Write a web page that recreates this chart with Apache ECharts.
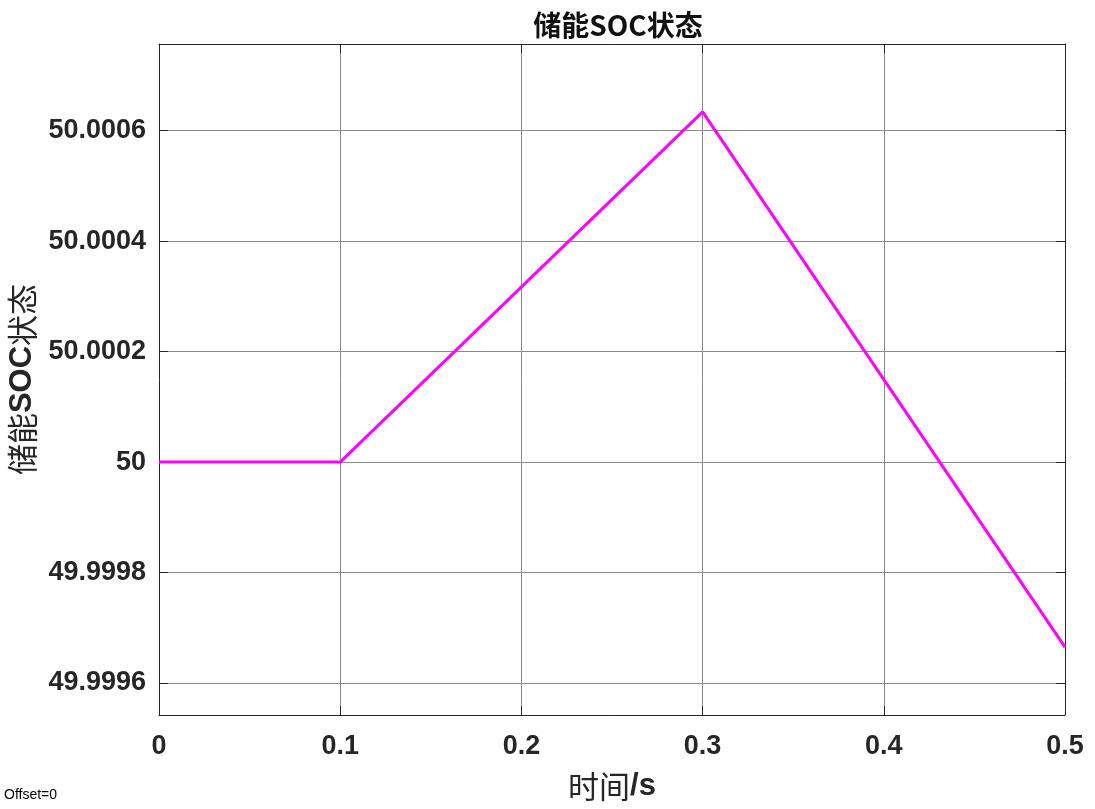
<!DOCTYPE html>
<html>
<head>
<meta charset="utf-8">
<script src="https://cdn.jsdelivr.net/npm/echarts@6/dist/echarts.min.js"></script>
<style>
html,body{margin:0;padding:0;background:#fff;}
#main{width:1095px;height:809px;}
</style>
</head>
<body>
<div id="main"></div>
<script>
// 时间 (s) 和 储能SOC 数据点
var timeData = [0, 0.1, 0.3, 0.5];
var socData = [50, 50, 50.000634, 49.999665];
var yTicks = [49.9996, 49.9998, 50, 50.0002, 50.0004, 50.0006];

var txtColor = '#262626';
var labelFont = '"Liberation Sans", Arial, sans-serif';
var cjkFont = '"Noto Sans CJK SC", sans-serif';

var myChart = echarts.init(document.getElementById('main'));

function yFmt(v) {
    return parseFloat(Number(v).toFixed(4)).toString();
}

var seriesPoints = [];
for (var i = 0; i < timeData.length; i++) {
    seriesPoints.push([timeData[i], socData[i]]);
}

var baseX = {
    type: 'value',
    min: 0,
    max: 0.5,
    interval: 0.1,
    axisLine: {show: true, onZero: false, lineStyle: {color: txtColor, width: 1}},
    axisTick: {show: true, inside: true, length: 9, lineStyle: {color: txtColor}},
    splitLine: {show: false}
};
var baseY = {
    type: 'value',
    min: 49.999542,
    max: 50.000757,
    axisLine: {show: true, onZero: false, lineStyle: {color: txtColor, width: 1}},
    axisTick: {show: true, inside: true, length: 9, customValues: yTicks, lineStyle: {color: txtColor}},
    splitLine: {show: false}
};

var option = {
    animation: false,
    backgroundColor: '#fff',
    title: {
        text: '储能SOC状态',
        left: 613,
        textAlign: 'center',
        top: 6,
        textStyle: {fontFamily: cjkFont, fontSize: 28, fontWeight: 'bold', color: '#111'}
    },
    grid: {left: 159, right: 30, top: 44, bottom: 94, containLabel: false, outerBoundsMode: 'none'},
    xAxis: [
        Object.assign({}, baseX, {
            position: 'bottom',
            name: '{c|时间}{b|/s}',
            nameLocation: 'middle',
            nameGap: 56,
            nameTextStyle: {
                rich: {
                    c: {fontFamily: cjkFont, fontSize: 31, color: txtColor},
                    b: {fontFamily: labelFont, fontSize: 31, fontWeight: 'bold', color: txtColor}
                }
            },
            axisLabel: {
                margin: 18,
                fontFamily: labelFont, fontSize: 27, fontWeight: 'bold', color: txtColor,
                formatter: function (v) { return parseFloat(v.toFixed(1)).toString(); }
            },
            splitLine: {show: true, lineStyle: {color: '#8a8a8a', width: 1}}
        }),
        Object.assign({}, baseX, {position: 'top', axisLabel: {show: false}})
    ],
    yAxis: [
        Object.assign({}, baseY, {
            position: 'left',
            name: '{c|储能}{b|SOC}{c|状态}',
            nameLocation: 'middle',
            nameGap: 115,
            nameRotate: 90,
            nameTextStyle: {
                rich: {
                    c: {fontFamily: cjkFont, fontSize: 31, color: txtColor},
                    b: {fontFamily: labelFont, fontSize: 31, fontWeight: 'bold', color: txtColor}
                }
            },
            axisLabel: {
                margin: 13,
                customValues: yTicks,
                fontFamily: labelFont, fontSize: 27, fontWeight: 'bold', color: txtColor,
                formatter: yFmt
            },
            splitLine: {show: true, lineStyle: {color: '#8a8a8a', width: 1}}
        }),
        Object.assign({}, baseY, {position: 'right', axisLabel: {show: false}})
    ],
    graphic: [{
        type: 'text',
        left: 4,
        top: 788,
        style: {text: 'Offset=0', fontFamily: labelFont, fontSize: 14, fill: '#000'}
    }],
    series: [{
        type: 'line',
        data: seriesPoints,
        symbol: 'none',
        lineStyle: {color: '#ff00ff', width: 3},
        z: 5
    }]
};

myChart.setOption(option);
</script>
</body>
</html>
